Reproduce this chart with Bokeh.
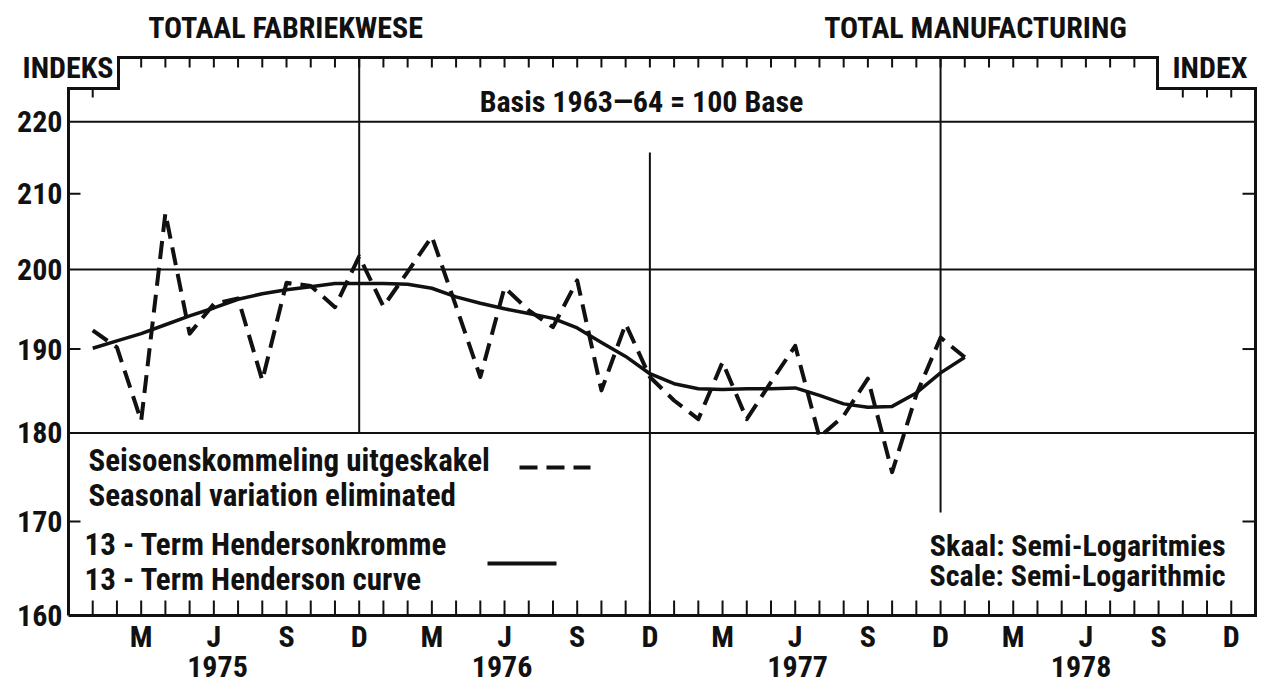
import math
from bokeh.plotting import figure
from bokeh.models import Range1d
from bokeh.embed import file_html
from bokeh.resources import INLINE
from bokeh.core.properties import value

# ---------------- data ----------------
# month index: 0 = Dec 1974, 1 = Jan 1975, ... 48 = Dec 1978
months = list(range(1, 38))  # Jan 1975 .. Jan 1978
seasonal = [192.3, 190.2, 181.4, 207.4, 191.9, 195.6, 196.3, 186.2, 198.3, 197.9,
            195.2, 201.7, 195.3, 199.7, 204.3, 195.3, 186.6, 197.7, 194.8, 192.7,
            198.6, 185.0, 193.1, 186.6, 183.8, 181.6, 188.4, 181.6, 186.0, 190.4,
            179.5, 182.0, 186.4, 175.5, 184.5, 191.4, 189.0]
henderson = [190.1, 191.0, 191.9, 193.0, 194.1, 195.1, 196.2, 196.9, 197.4, 197.8,
             198.2, 198.2, 198.2, 198.1, 197.6, 196.5, 195.7, 195.0, 194.4, 193.8,
             192.6, 190.8, 189.1, 187.0, 185.8, 185.2, 185.1, 185.2, 185.2, 185.3,
             184.4, 183.4, 183.0, 183.1, 184.7, 187.1, 189.0]

month_ticks = list(range(1, 49))
quarter_months = list(range(3, 49, 3))
quarter_labels = ["M", "J", "S", "D"] * 4
years = ["1975", "1976", "1977", "1978"]
year_pos = [6.15, 17.9, 30.1, 41.8]
y_labels = [160, 170, 180, 190, 200, 210, 220]
y_grid = [180, 200, 220]
y_side_ticks = [170, 190, 210]
dec_lines = [12, 24, 36]

# ---------------- layout helpers (page pixel -> data) ----------------
PX_M = 24.224
PX_LN = 1550.5


def mx(xr):
    return (xr - 68) / PX_M


def vy(yr):
    return 160 * math.exp((615 - yr) / PX_LN)


FONT = "Roboto Condensed, Liberation Sans Narrow, DejaVu Sans Condensed, Roboto"
INK = "#111111"

W, H = 1264, 687
p = figure(width=W, height=H, y_axis_type="log",
           x_range=Range1d(mx(0), mx(W)), y_range=Range1d(vy(H), vy(0)),
           output_backend="svg", toolbar_location=None,
           x_axis_location=None, y_axis_location=None,
           min_border=0)
p.outline_line_color = None
p.grid.visible = False
p.background_fill_color = "white"
p.border_fill_color = "white"

TOPV = vy(57)
NOTCH = vy(88)
XL, XR = mx(118), mx(1157)
XEND = mx(1255)
Y0 = 160

# horizontal grid lines
p.segment(x0=[0] * len(y_grid), x1=[XEND] * len(y_grid), y0=y_grid, y1=y_grid,
          line_color=INK, line_width=2)
# vertical December lines
p.segment(x0=dec_lines, x1=dec_lines, y0=[TOPV, vy(152), TOPV], y1=[180, Y0, vy(512)],
          line_color=INK, line_width=2)

# month ticks: bottom, top, under the notches
p.segment(x0=month_ticks, x1=month_ticks, y0=[Y0] * 48,
          y1=[Y0 * math.exp(15 / PX_LN)] * 48, line_color=INK, line_width=2)
top_ticks = month_ticks[2:44]
p.segment(x0=top_ticks, x1=top_ticks, y0=[TOPV] * len(top_ticks),
          y1=[TOPV * math.exp(-10 / PX_LN)] * len(top_ticks), line_color=INK, line_width=2)
notch_ticks = [month_ticks[0]] + month_ticks[45:48]
p.segment(x0=notch_ticks, x1=notch_ticks, y0=[NOTCH] * 4,
          y1=[NOTCH * math.exp(-9 / PX_LN)] * 4, line_color=INK, line_width=2)
# index ticks on both sides
p.segment(x0=[0] * 3, x1=[12 / PX_M] * 3, y0=y_side_ticks, y1=y_side_ticks,
          line_color=INK, line_width=2)
p.segment(x0=[XEND] * 3, x1=[XEND - 13 / PX_M] * 3, y0=y_side_ticks, y1=y_side_ticks,
          line_color=INK, line_width=2)

# frame with the two notches
p.line([0, 0, XL, XL, XR, XR, XEND, XEND, 0],
       [Y0, NOTCH, NOTCH, TOPV, TOPV, NOTCH, NOTCH, Y0, Y0],
       line_color=INK, line_width=3, line_join="miter")

# data
p.line(months, henderson, line_color=INK, line_width=3.5, line_join="round")
p.line(months, seasonal, line_color=INK, line_width=4, line_dash="18 9", line_join="round")

# legend samples
p.line([mx(519), mx(590)], [vy(467), vy(467)], line_color=INK, line_width=4, line_dash="18 9")
p.line([mx(487), mx(556)], [vy(563), vy(563)], line_color=INK, line_width=4)


def txt(x, y, text, size, align="left"):
    if not isinstance(x, list):
        x, y, text = [x], [y], [text]
    p.text(x=x, y=y, text=text, text_font=value(FONT), text_font_style="bold",
           text_font_size=size, text_align=align, text_baseline="middle",
           text_color=INK)


# axis labels
txt([mx(62)] * len(y_labels), y_labels, [str(v) for v in y_labels], "30px", "right")
txt(quarter_months, [vy(636)] * len(quarter_months), quarter_labels, "30px", "center")
txt(year_pos, [vy(666)] * len(years), years, "30px", "center")

# titles and notes
txt(mx(285), vy(27), "TOTAAL FABRIEKWESE", "30px", "center")
txt(mx(975), vy(27), "TOTAL MANUFACTURING", "30px", "center")
txt(mx(113), vy(67), "INDEKS", "30px", "right")
txt(mx(1172), vy(67), "INDEX", "30px", "left")
txt(mx(641), vy(101), "Basis 1963\u201464 = 100 Base", "30px", "center")
txt(mx(88), vy(460), "Seisoenskommeling uitgeskakel", "31px")
txt(mx(88), vy(495), "Seasonal variation eliminated", "31px")
txt(mx(84), vy(544), "13 - Term Hendersonkromme", "31px")
txt(mx(84), vy(579), "13 - Term Henderson curve", "31px")
txt(mx(1225), vy(545), "Skaal: Semi-Logaritmies", "30px", "right")
txt(mx(1225), vy(575), "Scale: Semi-Logarithmic", "30px", "right")

open("out.html", "w").write(file_html(p, INLINE))
